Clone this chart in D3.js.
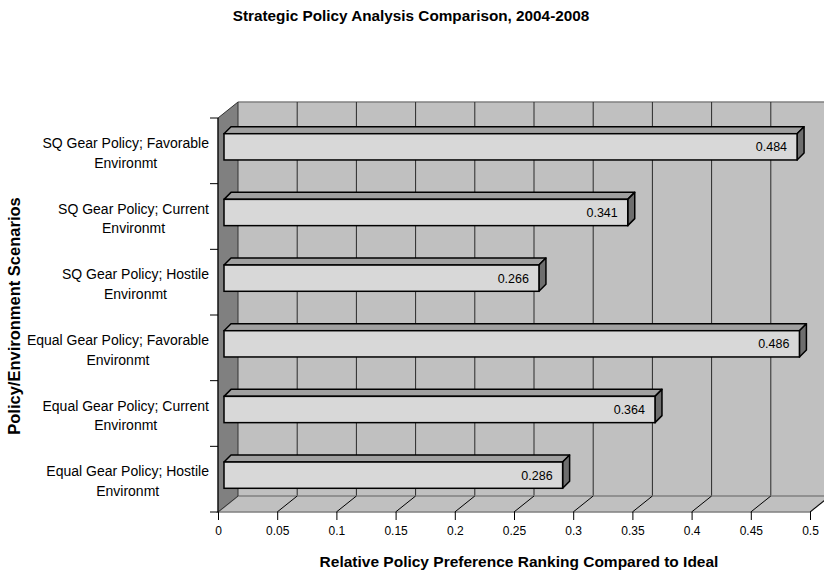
<!DOCTYPE html>
<html>
<head>
<meta charset="utf-8">
<script src="https://cdn.jsdelivr.net/npm/d3@7"></script>
<style>
  body { margin: 0; background: #fff; }
  text { font-family: "Liberation Sans", Arial, sans-serif; fill: #000; }
</style>
</head>
<body>
<svg id="chart" width="824" height="573"></svg>
<script>
// chart data
var categories = [
  "SQ Gear Policy; Favorable Environmt",
  "SQ Gear Policy; Current Environmt",
  "SQ Gear Policy; Hostile Environmt",
  "Equal Gear Policy; Favorable Environmt",
  "Equal Gear Policy; Current Environmt",
  "Equal Gear Policy; Hostile Environmt"
];
var values = [0.484, 0.341, 0.266, 0.486, 0.364, 0.286];
var xTicks = [0, 0.05, 0.1, 0.15, 0.2, 0.25, 0.3, 0.35, 0.4, 0.45, 0.5];

var chartTitle = "Strategic Policy Analysis Comparison, 2004-2008";
var xTitle = "Relative Policy Preference Ranking Compared to Ideal";
var yTitle = "Policy/Environment Scenarios";

/********************************************************
 ********************* layout ***************************
 ********************************************************/
var svg = d3.select("#chart");
var pLeft = 218, pRight = 810, pTop = 118, pBottom = 512;
var depthX = 20, depthY = -16;      // wall depth
var barOffX = 6, barOffY = -4;      // bar front plane
var barDX = 7, barDY = -7;          // bar depth

var x = d3.scaleLinear().domain([0, 0.5]).range([pLeft, pRight]);
var y = d3.scaleBand().domain(categories).range([pTop, pBottom]);

function pts(a) {
  return a.map(function(p) { return p.join(","); }).join(" ");
}

// back wall
svg.append("polygon")
  .attr("points", pts([[pLeft + depthX, pTop + depthY], [pRight + depthX, pTop + depthY],
                       [pRight + depthX, pBottom + depthY], [pLeft + depthX, pBottom + depthY]]))
  .attr("fill", "#c0c0c0");
svg.append("line")
  .attr("x1", pLeft + depthX).attr("x2", pRight + depthX)
  .attr("y1", pTop + depthY).attr("y2", pTop + depthY)
  .attr("stroke", "#808080").attr("stroke-width", 1.5);

// gridlines on the back wall
svg.append("g").selectAll("line")
  .data(xTicks.slice(1))
  .enter()
  .append("line")
  .attr("x1", function(d) { return x(d) + depthX; })
  .attr("x2", function(d) { return x(d) + depthX; })
  .attr("y1", pTop + depthY)
  .attr("y2", pBottom + depthY)
  .attr("stroke", "#2a2a2a")
  .attr("stroke-width", 1);

// floor
svg.append("polygon")
  .attr("points", pts([[pLeft, pBottom], [pRight, pBottom],
                       [pRight + depthX, pBottom + depthY], [pLeft + depthX, pBottom + depthY]]))
  .attr("fill", "#c0c0c0")
  .attr("stroke", "#808080")
  .attr("stroke-width", 1.5);

svg.append("g").selectAll("line")
  .data(xTicks.slice(1))
  .enter()
  .append("line")
  .attr("x1", function(d) { return x(d); })
  .attr("x2", function(d) { return x(d) + depthX; })
  .attr("y1", pBottom)
  .attr("y2", pBottom + depthY)
  .attr("stroke", "#000")
  .attr("stroke-width", 1);

// left wall
svg.append("polygon")
  .attr("points", pts([[pLeft, pTop], [pLeft + depthX, pTop + depthY],
                       [pLeft + depthX, pBottom + depthY], [pLeft, pBottom]]))
  .attr("fill", "#808080")
  .attr("stroke", "#333")
  .attr("stroke-width", 1);

/********************************************************
 ********************* bars *****************************
 ********************************************************/
var barH = y.bandwidth() * 0.4;

svg.append("g").selectAll("g")
  .data(values)
  .enter()
  .append("g")
  .each(function(v, i) {
    var g = d3.select(this);
    var cy = y(categories[i]) + y.bandwidth() / 2 + barOffY;
    var x0 = x(0) + barOffX, x1 = x(v) + barOffX;
    var y0 = cy - barH / 2, y1 = cy + barH / 2;

    // top face
    g.append("polygon")
      .attr("points", pts([[x0, y0], [x0 + barDX, y0 + barDY], [x1 + barDX, y0 + barDY], [x1, y0]]))
      .attr("fill", "#a0a0a0")
      .attr("stroke", "#000").attr("stroke-width", 1.5).attr("stroke-linejoin", "round");
    // right face
    g.append("polygon")
      .attr("points", pts([[x1, y0], [x1 + barDX, y0 + barDY], [x1 + barDX, y1 + barDY], [x1, y1]]))
      .attr("fill", "#6e6e6e")
      .attr("stroke", "#000").attr("stroke-width", 1.5).attr("stroke-linejoin", "round");
    // front face
    g.append("rect")
      .attr("x", x0).attr("y", y0)
      .attr("width", x1 - x0).attr("height", barH)
      .attr("fill", "#d8d8d8")
      .attr("stroke", "#000").attr("stroke-width", 1.5);

    g.append("text")
      .attr("x", x1 - 10)
      .attr("y", cy + 4.5)
      .attr("text-anchor", "end")
      .style("font-size", "12.5px")
      .text(v);
  });

/********************************************************
 ********************* axes *****************************
 ********************************************************/
var xAxis = svg.append("g")
  .attr("transform", "translate(0," + pBottom + ")")
  .call(d3.axisBottom(x).tickValues(xTicks).tickSize(8).tickPadding(6)
    .tickFormat(d3.format("~g")));
xAxis.select(".domain").remove();
xAxis.selectAll("line").attr("stroke", "#000");
xAxis.selectAll("text")
  .style("font-family", "Liberation Sans, Arial, sans-serif")
  .style("font-size", "12px");

// left axis line and ticks at band edges
var edges = categories.map(function(c) { return y(c); }).concat([pBottom]);
svg.append("line")
  .attr("x1", pLeft).attr("x2", pLeft).attr("y1", pTop).attr("y2", pBottom)
  .attr("stroke", "#000").attr("stroke-width", 1);
svg.append("g").selectAll("line")
  .data(edges)
  .enter()
  .append("line")
  .attr("x1", pLeft - 8).attr("x2", pLeft)
  .attr("y1", function(d) { return d; })
  .attr("y2", function(d) { return d; })
  .attr("stroke", "#000");

// category labels, two lines, block right aligned
var labelRight = 209, lineGap = 19.4;
categories.forEach(function(c, i) {
  var cut = c.lastIndexOf(" ");
  var lines = [c.slice(0, cut), c.slice(cut + 1)];
  var cy = y(c) + y.bandwidth() / 2 + 2;
  var t = svg.append("text")
    .style("font-size", "14px")
    .attr("text-anchor", "middle");
  var first = t.append("tspan").text(lines[0]);
  var w = first.node().getComputedTextLength();
  var cx = labelRight - w / 2;
  first.attr("x", cx).attr("y", cy - lineGap / 2 + 5);
  t.append("tspan").attr("x", cx).attr("y", cy + lineGap / 2 + 5).text(lines[1]);
});

// titles
svg.append("text")
  .attr("x", 411).attr("y", 21)
  .attr("text-anchor", "middle")
  .style("font-size", "15.3px").style("font-weight", "bold")
  .text(chartTitle);

svg.append("text")
  .attr("x", 519).attr("y", 567)
  .attr("text-anchor", "middle")
  .style("font-size", "15.5px").style("font-weight", "bold")
  .text(xTitle);

svg.append("text")
  .attr("transform", "translate(20,316) rotate(-90)")
  .attr("text-anchor", "middle")
  .style("font-size", "16.5px").style("font-weight", "bold")
  .text(yTitle);
</script>
</body>
</html>
